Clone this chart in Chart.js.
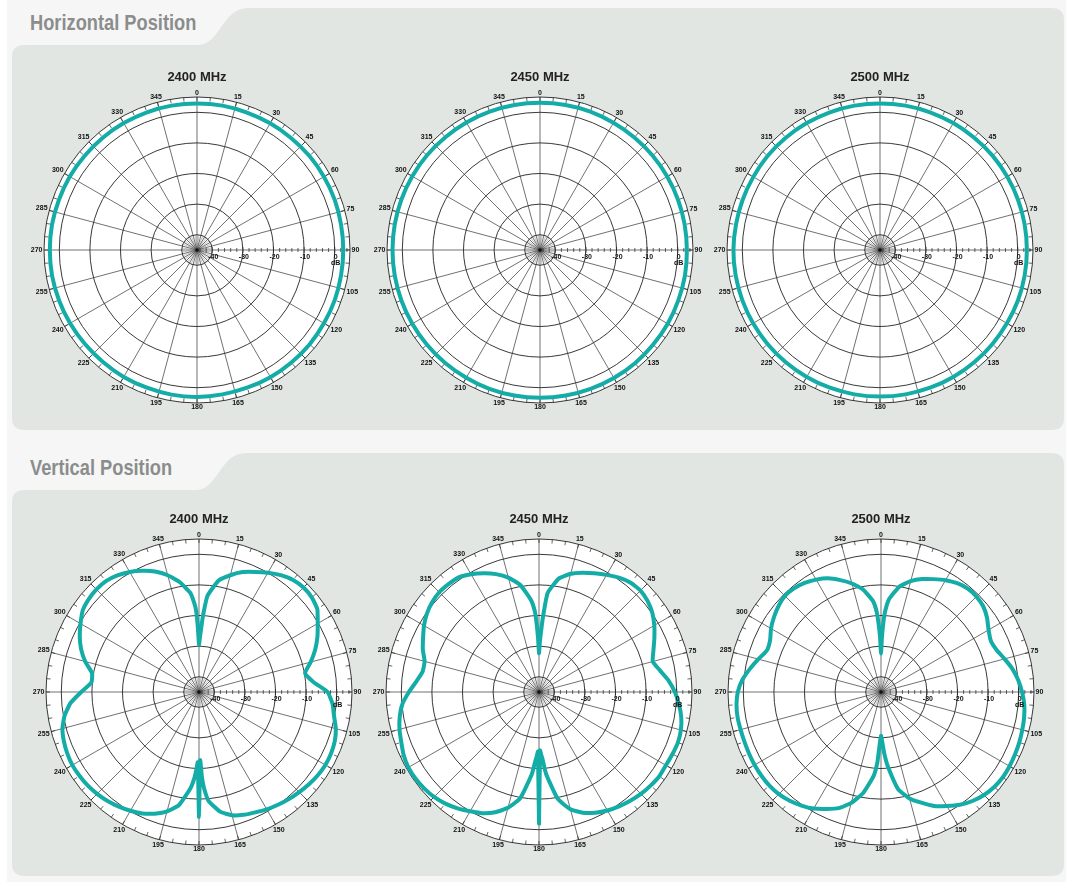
<!DOCTYPE html>
<html>
<head>
<meta charset="utf-8">
<script src="https://cdn.jsdelivr.net/npm/chart.js@4.4.1/dist/chart.umd.min.js"></script>
<style>
  body { margin: 0; width: 1066px; height: 882px; position: relative; overflow: hidden; background: #f6f6f6; font-family: "Liberation Sans", Arial, sans-serif; }
  #bg { position: absolute; left: 0; top: 0; }
  .sec { position: absolute; left: 30px; font: bold 22px/22px "Liberation Sans", Arial, sans-serif; color: #8b8d8d; transform: scaleX(0.83); transform-origin: 0 0; white-space: nowrap; }
  canvas { position: absolute; }
</style>
</head>
<body>
<svg id="bg" width="1066" height="882">
  <rect x="0" y="0" width="7" height="882" fill="#fff"/>
  <path d="M12,57 Q12,45 24,45 L198,45 C220,45 222,8 248,8 L1052,8 Q1064,8 1064,20 L1064,418 Q1064,430 1052,430 L24,430 Q12,430 12,418 Z" fill="#e1e6e3"/>
  <path d="M12,502 Q12,490 24,490 L196,490 C218,490 220,453 246,453 L1052,453 Q1064,453 1064,465 L1064,864 Q1064,876 1052,876 L24,876 Q12,876 12,864 Z" fill="#e1e6e3"/>
</svg>
<div class="sec" style="top:12px">Horizontal Position</div>
<div class="sec" style="top:457px">Vertical Position</div>

<canvas id="h2400" width="340" height="350" style="left:27px;top:60px"></canvas>
<canvas id="h2450" width="340" height="350" style="left:370px;top:60px"></canvas>
<canvas id="h2500" width="340" height="350" style="left:710px;top:60px"></canvas>
<canvas id="v2400" width="340" height="350" style="left:29px;top:502px"></canvas>
<canvas id="v2450" width="340" height="350" style="left:369px;top:502px"></canvas>
<canvas id="v2500" width="340" height="350" style="left:711px;top:502px"></canvas>

<script>
// escala radial (dB)
const rMin = -45;
const rMax = 5;
const rings = [-45, -40, -30, -20, -10, 0, 5];
const dbTicks = [-40, -30, -20, -10, 0];
const angleTicks = [0, 15, 30, 45, 60, 75, 90, 105, 120, 135, 150, 165, 180, 195, 210, 225, 240, 255, 270, 285, 300, 315, 330, 345];

// posición horizontal: cada 10 grados
const hAngles = [0, 10, 20, 30, 40, 50, 60, 70, 80, 90, 100, 110, 120, 130, 140, 150, 160, 170,
  180, 190, 200, 210, 220, 230, 240, 250, 260, 270, 280, 290, 300, 310, 320, 330, 340, 350];
const h2400 = [2.9, 2.9, 2.8, 2.8, 2.8, 2.9, 2.9, 2.9, 2.8, 2.8, 2.8, 2.9, 2.9, 3.0, 3.0, 3.0, 2.9, 2.9,
  3.0, 3.0, 2.9, 2.9, 2.8, 2.8, 2.9, 3.0, 3.1, 3.1, 3.1, 3.0, 3.0, 2.9, 2.9, 2.9, 2.9, 2.9];
const h2450 = [3.1, 3.1, 3.1, 3.0, 3.0, 3.0, 3.0, 3.0, 3.0, 3.0, 3.1, 3.1, 3.2, 3.2, 3.3, 3.3, 3.3, 3.3,
  3.3, 3.3, 3.3, 3.2, 3.2, 3.2, 3.2, 3.2, 3.2, 3.2, 3.2, 3.2, 3.2, 3.2, 3.1, 3.1, 3.1, 3.1];
const h2500 = [2.9, 2.9, 2.9, 2.9, 2.9, 3.0, 3.0, 3.0, 3.0, 3.0, 3.0, 3.0, 2.9, 2.9, 2.9, 2.9, 2.9, 2.9,
  2.9, 2.9, 2.9, 2.9, 2.9, 2.9, 2.9, 2.9, 2.9, 2.9, 2.8, 2.8, 2.8, 2.9, 2.9, 2.9, 2.9, 2.9];

// posición vertical: cada 5 grados + detalle en los nulos
const vAngles = [0, 1, 2, 3, 5, 10, 15, 20, 25, 30, 35, 40, 45, 50, 55,
  60, 65, 70, 75, 80, 85, 90, 95, 100, 105, 110, 115,
  120, 125, 130, 135, 140, 145, 150, 155, 160, 165, 170, 175,
  177, 178, 179, 180, 181, 182, 183, 185, 190, 195, 200, 205,
  210, 215, 220, 225, 230, 235, 240, 245, 250, 255, 260, 265,
  270, 275, 280, 285, 290, 295, 300, 305, 310, 315, 320, 325,
  330, 335, 340, 345, 350, 355, 357, 358, 359];
const v2400 = [-29.5, -27, -24, -20, -13.5, -8, -5.5, -3.3, -1.7, 0, 1.6, 2.8, 3.3, 3.1, 2.2,
  -0.2, -2.3, -4.6, -7.2, -9.8, -7.5, -3, -1.2, -0.2, 1.3, 2.2, 2.6,
  2.7, 2.4, 1.9, 1.3, 0.7, 0, -0.7, -1.6, -2.3, -3.3, -5.3, -9.3,
  -13.5, -17, -22.7, -4.2, -22, -19.5, -17, -13.5, -7.5, -4.6, -2.7, -1.2,
  -0.2, 0.7, 1.5, 2.1, 2.5, 2.7, 2.8, 2.5, 2.0, 1.2, -0.4, -2.8,
  -6.5, -9.7, -9.5, -6.5, -4, -2, -0.3, 1.4, 2.1, 2.4, 2.3, 1.5,
  0.3, -1.3, -3.1, -5.5, -8.5, -12.5, -16, -18.5, -24];
const v2450 = [-32.3, -28.5, -25, -20.5, -12.5, -7.3, -5, -3.5, -2.2, -0.8, 0.6, 1.6, 1.9, 1.3, 0.2,
  -1.5, -3.4, -5.2, -6.5, -4.8, -2.5, -0.6, 0.9, 2.2, 3.0, 3.3, 3.1,
  2.9, 3.0, 2.6, 2.1, 1.4, 0.6, -0.3, -1.5, -3.0, -5.3, -9.5, -18,
  -23, -24.5, -25.9, -2.0, -25.5, -24, -22.5, -18, -9.8, -5.8, -3.2, -1.3,
  0, 1.4, 2.6, 3.5, 4.0, 4.3, 4.3, 3.8, 2.9, 2.2, 1.2, -0.2,
  -2.5, -4.8, -6.4, -6.3, -4.6, -3.2, -1.6, -0.3, 0.6, 1.1, 1.0, 0.7,
  -0.6, -2.2, -4.0, -6.3, -9.4, -14.8, -18.5, -22.5, -27.5];
const v2500 = [-32.4, -27, -22, -18.4, -14.5, -10, -7.5, -5.7, -4.3, -2.8, -1.6, -0.9, -0.9, -1.4, -2.7,
  -4.4, -5.4, -4.8, -3.2, -1.4, 0, 1.1, 2, 2.5, 2.8, 3.1, 3.3,
  3.5, 3.6, 3.3, 2.6, 1.5, 0, -2, -3.9, -6.5, -9, -12.8, -21,
  -25, -27.5, -29.5, -30.7, -29, -26, -21.8, -17.5, -11.5, -7.5, -4.6, -2.8,
  -1, 0.3, 1.4, 2.2, 2.6, 2.7, 2.7, 2.6, 2.5, 2.5, 2.6, 2.4,
  1.8, 0.5, -1.5, -3.5, -5.3, -5, -3.5, -2.3, -1.3, -0.6, -0.8, -1.5,
  -2.6, -4, -6.1, -8.3, -11, -15.2, -19, -22.8, -27];

const teal = "#13aca6";
const allDeg = Array.from({ length: 360 }, (_, i) => String(i));

// 360 categorías (una por grado); los huecos se unen con spanGaps
function toRadar(angles, values) {
  const d = new Array(360).fill(null);
  angles.forEach((a, i) => { d[a] = values[i]; });
  return d;
}

// rejilla extra: marcas del borde, eje en dB, etiquetas
const polarDecor = {
  id: "polarDecor",
  beforeDatasetsDraw(chart) {
    const r = chart.scales.r;
    const ctx = chart.ctx;
    const outer = r.getDistanceFromCenterForValue(rMax);
    const inner = r.getDistanceFromCenterForValue(-40);
    ctx.save();
    // abanico fino dentro del anillo de -40
    ctx.strokeStyle = "#666";
    ctx.lineWidth = 0.4;
    ctx.beginPath();
    for (let a = 0; a < 360; a += 7.5) {
      if (a % 15 === 0) continue;
      const c = r.getPointPosition(a, inner);
      ctx.moveTo(r.xCenter, r.yCenter);
      ctx.lineTo(c.x, c.y);
    }
    ctx.stroke();
    ctx.strokeStyle = "#222";
    ctx.lineWidth = 0.7;
    ctx.beginPath();
    for (let a = 0; a < 360; a += 5) {
      const p1 = r.getPointPosition(a, outer);
      const p2 = r.getPointPosition(a, outer - 4);
      ctx.moveTo(p1.x, p1.y);
      ctx.lineTo(p2.x, p2.y);
    }
    for (let v = -44; v <= 4; v += 2) {
      const p = r.getPointPosition(90, r.getDistanceFromCenterForValue(v));
      const h = v % 10 === 0 ? 3 : 2;
      ctx.moveTo(p.x, p.y - h);
      ctx.lineTo(p.x, p.y + h);
    }
    ctx.stroke();
    ctx.fillStyle = "#111";
    ctx.beginPath();
    ctx.arc(r.xCenter, r.yCenter, 1.8, 0, Math.PI * 2);
    ctx.fill();
    ctx.restore();
  },
  afterDraw(chart) {
    const r = chart.scales.r;
    const ctx = chart.ctx;
    const outer = r.getDistanceFromCenterForValue(rMax);
    ctx.save();
    ctx.fillStyle = "#111";
    ctx.font = 'bold 7px "Liberation Sans", Arial, sans-serif';
    ctx.textAlign = "center";
    ctx.textBaseline = "middle";
    angleTicks.forEach(a => {
      const txt = String(a);
      const w = ctx.measureText(txt).width;
      const rad = a * Math.PI / 180;
      const ext = Math.abs(Math.sin(rad)) * w / 2 + Math.abs(Math.cos(rad)) * 2.5;
      const p = r.getPointPosition(a, outer + 1.5 + ext);
      ctx.fillText(txt, p.x, p.y);
    });
    dbTicks.forEach(v => {
      const p = r.getPointPosition(90, r.getDistanceFromCenterForValue(v));
      ctx.fillText(String(v), p.x + 1, p.y + 7);
    });
    const z = r.getPointPosition(90, r.getDistanceFromCenterForValue(0));
    ctx.fillText("dB", z.x + 1, z.y + 13);
    ctx.restore();
  }
};

function makeChart(id, title, data, tension) {
  new Chart(document.getElementById(id), {
    type: "radar",
    data: {
      labels: allDeg,
      datasets: [{
        data,
        borderColor: teal,
        borderWidth: 4,
        backgroundColor: "transparent",
        fill: false,
        pointRadius: 0,
        spanGaps: true,
        tension,
      }],
    },
    options: {
      responsive: false,
      animation: false,
      layout: { padding: { top: 0, bottom: 7, left: 17, right: 17 } },
      plugins: {
        legend: { display: false },
        tooltip: { enabled: false },
        title: {
          display: true,
          text: title,
          color: "#222",
          font: { size: 13, weight: "bold", family: '"Liberation Sans", Arial, sans-serif' },
          padding: { top: 10, bottom: 11.4 },
        },
      },
      scales: {
        r: {
          min: rMin,
          max: rMax,
          startAngle: 0,
          backgroundColor: "#fff",
          grid: { circular: true, color: "#222", lineWidth: 0.9 },
          angleLines: { color: "#333", lineWidth: c => (c.index % 15 === 0 ? 0.7 : 0) },
          pointLabels: { display: false },
          ticks: { display: false },
          afterBuildTicks: s => { s.ticks = rings.map(v => ({ value: v })); },
        },
      },
    },
    plugins: [polarDecor],
  });
}

makeChart("h2400", "2400 MHz", toRadar(hAngles, h2400), 0.35);
makeChart("h2450", "2450 MHz", toRadar(hAngles, h2450), 0.35);
makeChart("h2500", "2500 MHz", toRadar(hAngles, h2500), 0.35);
makeChart("v2400", "2400 MHz", toRadar(vAngles, v2400), 0.15);
makeChart("v2450", "2450 MHz", toRadar(vAngles, v2450), 0.15);
makeChart("v2500", "2500 MHz", toRadar(vAngles, v2500), 0.15);
</script>
</body>
</html>
